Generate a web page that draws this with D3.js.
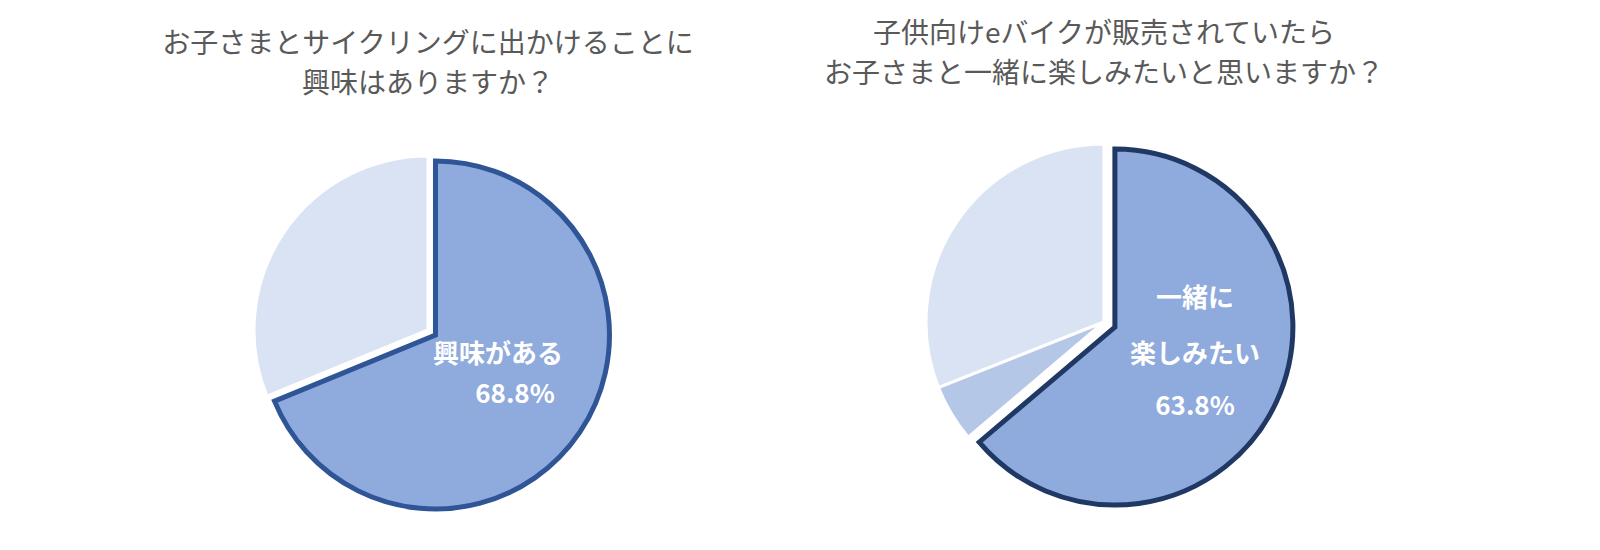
<!DOCTYPE html><html><head><meta charset="utf-8">
<script src="https://cdn.jsdelivr.net/npm/d3@7"></script>
<style>body{margin:0;background:#fff}</style></head><body>
<svg id="c" width="1600" height="550"></svg>
<script>
const titles1 = ["お子さまとサイクリングに出かけることに","興味はありますか？"];
const titles2 = ["子供向けeバイクが販売されていたら","お子さまと一緒に楽しみたいと思いますか？"];
const cats1 = ["興味がある","その他"];
const vals1 = [68.8, 31.2];
const cats2 = ["一緒に楽しみたい","その他A","その他B"];
const vals2 = [63.8, 5.2, 31.0];
const svg = d3.select("#c");
const font = "'Noto Sans CJK JP', sans-serif";
function pie(cx, cy, r, off, vals, colors, hlStroke, titles, ty, labels) {
  const g = svg.append("g");
  titles.forEach((t,i)=>g.append("text").attr("x",cx).attr("y",ty+i*40).attr("text-anchor","middle")
    .attr("font-family",font).attr("font-size",28).attr("fill","#595959").text(t));
  const arcs = d3.pie().sort(null)(vals);
  const arc = d3.arc().innerRadius(0).outerRadius(r);
  const pg = g.append("g").attr("transform",`translate(${cx},${cy})`);
  arcs.slice().reverse().forEach(a=>{
    const i = a.index;
    const p = pg.append("path").attr("d",arc(a)).attr("fill",colors[i]);
    if (i===0) {
      const m = (a.startAngle+a.endAngle)/2;
      p.attr("transform",`translate(${Math.sin(m)*off},${-Math.cos(m)*off})`)
       .attr("stroke",hlStroke).attr("stroke-width",5).attr("stroke-linejoin","miter");
    } else p.attr("stroke","#fff").attr("stroke-width",3);
  });
  labels.forEach(l=>g.append("text").attr("x",l[0]).attr("y",l[1]).attr("text-anchor","middle")
    .attr("font-family",font).attr("font-weight","bold").attr("font-size",26).attr("fill","#fff").text(l[2]));
}
pie(428,330,174,9,vals1,["#8faadc","#dae3f3"],"#2f5597",titles1,53,
  [[498,363,"興味がある"],[515,403,"68.8%"]]);
pie(1104,322,178,12,vals2,["#8faadc","#b4c7e7","#dae3f3"],"#203864",titles2,43,
  [[1195,307,"一緒に"],[1195,363,"楽しみたい"],[1195,415,"63.8%"]]);
</script></body></html>
